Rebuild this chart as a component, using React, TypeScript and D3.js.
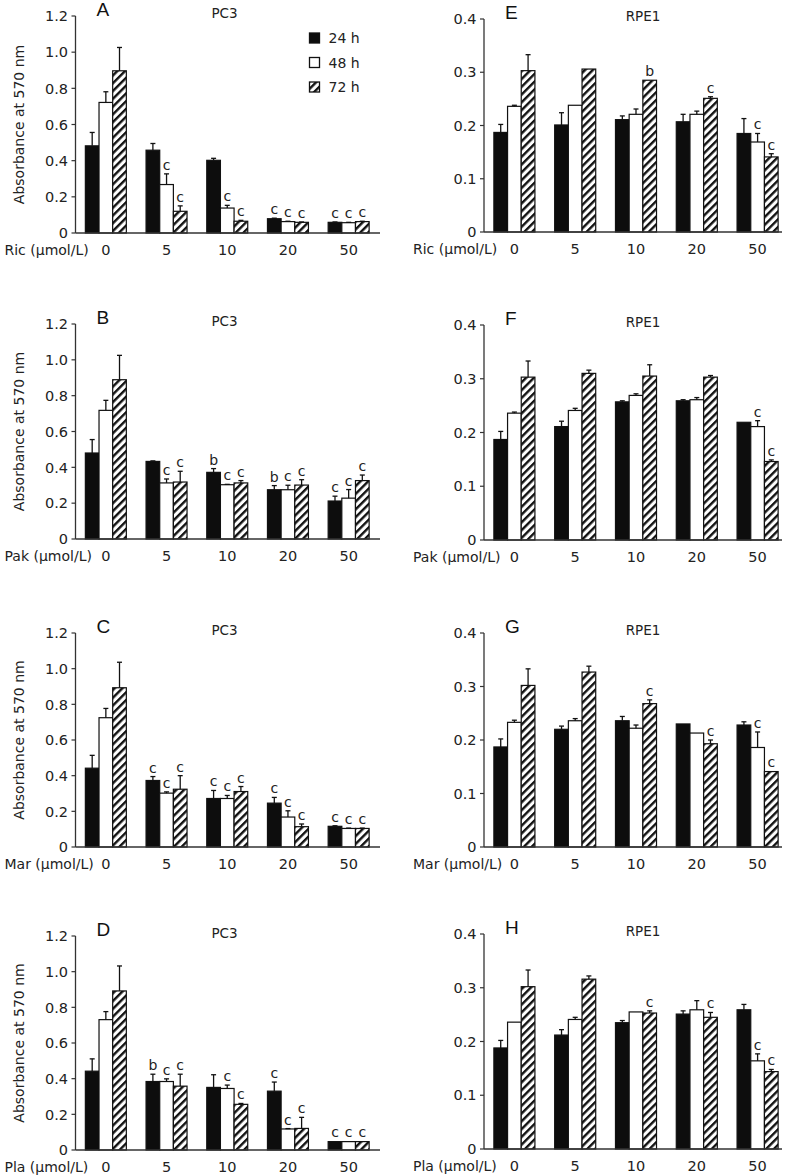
import React from "react";
import * as d3 from "d3";

const doses = ["0", "5", "10", "20", "50"];
const seriesNames = ["24 h", "48 h", "72 h"];
const pc3Ticks = [0, 0.2, 0.4, 0.6, 0.8, 1.0, 1.2];
const pc3TickLabels = ["0", "0.2", "0.4", "0.6", "0.8", "1.0", "1.2"];
const rpeTicks = [0, 0.1, 0.2, 0.3, 0.4];
const rpeTickLabels = ["0", "0.1", "0.2", "0.3", "0.4"];

// means [dose][24h,48h,72h]
const aMeans = [[0.482, 0.722, 0.897], [0.458, 0.268, 0.12], [0.402, 0.138, 0.065], [0.079, 0.063, 0.059], [0.059, 0.057, 0.063]];
const aErrs = [[0.074, 0.059, 0.129], [0.037, 0.059, 0.03], [0.011, 0.015, 0.005], [0.003, 0.002, 0.002], [0.002, 0.002, 0.002]];
const aSig = [["", "", ""], ["", "c", "c"], ["", "c", "c"], ["c", "c", "c"], ["c", "c", "c"]];

const bMeans = [[0.48, 0.718, 0.889], [0.433, 0.313, 0.318], [0.372, 0.303, 0.313], [0.275, 0.275, 0.301], [0.212, 0.228, 0.326]];
const bErrs = [[0.075, 0.056, 0.136], [0.003, 0.022, 0.06], [0.021, 0.002, 0.013], [0.023, 0.025, 0.03], [0.027, 0.048, 0.031]];
const bSig = [["", "", ""], ["", "c", "c"], ["b", "c", "c"], ["b", "c", "c"], ["c", "c", "c"]];

const cMeans = [[0.442, 0.725, 0.893], [0.373, 0.302, 0.324], [0.272, 0.272, 0.311], [0.246, 0.168, 0.114], [0.116, 0.104, 0.104]];
const cErrs = [[0.072, 0.052, 0.143], [0.022, 0.007, 0.076], [0.045, 0.017, 0.028], [0.032, 0.035, 0.015], [0.003, 0.002, 0.002]];
const cSig = [["", "", ""], ["c", "c", "c"], ["c", "c", "c"], ["c", "c", "c"], ["c", "c", "c"]];

const dMeans = [[0.442, 0.731, 0.892], [0.384, 0.384, 0.358], [0.351, 0.345, 0.256], [0.33, 0.118, 0.121], [0.047, 0.047, 0.047]];
const dErrs = [[0.069, 0.045, 0.14], [0.041, 0.015, 0.067], [0.071, 0.019, 0.005], [0.051, 0.002, 0.062], [0.001, 0.001, 0.001]];
const dSig = [["", "", ""], ["b", "c", "c"], ["", "c", "c"], ["c", "c", "c"], ["c", "c", "c"]];

const eMeans = [[0.187, 0.236, 0.303], [0.201, 0.238, 0.306], [0.211, 0.221, 0.285], [0.207, 0.221, 0.251], [0.185, 0.169, 0.141]];
const eErrs = [[0.015, 0.002, 0.030], [0.023, 0.001, 0.001], [0.007, 0.010, 0.001], [0.014, 0.006, 0.003], [0.028, 0.016, 0.006]];
const eSig = [["", "", ""], ["", "", ""], ["", "", "b"], ["", "", "c"], ["", "c", "c"]];

const fMeans = [[0.187, 0.236, 0.303], [0.211, 0.241, 0.310], [0.257, 0.269, 0.305], [0.259, 0.261, 0.303], [0.219, 0.211, 0.146]];
const fErrs = [[0.015, 0.002, 0.030], [0.010, 0.004, 0.006], [0.002, 0.003, 0.021], [0.002, 0.004, 0.003], [0.001, 0.011, 0.003]];
const fSig = [["", "", ""], ["", "", ""], ["", "", ""], ["", "", ""], ["", "c", "c"]];

const gMeans = [[0.187, 0.233, 0.302], [0.220, 0.236, 0.327], [0.236, 0.222, 0.268], [0.230, 0.213, 0.193], [0.228, 0.186, 0.141]];
const gErrs = [[0.015, 0.004, 0.031], [0.006, 0.004, 0.011], [0.008, 0.006, 0.007], [0.001, 0.001, 0.007], [0.006, 0.029, 0.001]];
const gSig = [["", "", ""], ["", "", ""], ["", "", "c"], ["", "", "c"], ["", "c", "c"]];

const hMeans = [[0.188, 0.236, 0.302], [0.212, 0.241, 0.316], [0.235, 0.255, 0.253], [0.251, 0.259, 0.245], [0.259, 0.164, 0.144]];
const hErrs = [[0.014, 0.001, 0.031], [0.010, 0.004, 0.006], [0.004, 0.001, 0.004], [0.006, 0.017, 0.009], [0.010, 0.013, 0.004]];
const hSig = [["", "", ""], ["", "", ""], ["", "", "c"], ["", "", "c"], ["", "c", "c"]];

const FONT = "'DejaVu Sans', Verdana, sans-serif";
const INK = "#222";

type PanelDef = {
  letter: string; title: string; drug: string; col: number; row: number;
  means: number[][]; errs: number[][]; sig: string[][];
};

const panels: PanelDef[] = [
  { letter: "A", title: "PC3", drug: "Ric", col: 0, row: 0, means: aMeans, errs: aErrs, sig: aSig },
  { letter: "B", title: "PC3", drug: "Pak", col: 0, row: 1, means: bMeans, errs: bErrs, sig: bSig },
  { letter: "C", title: "PC3", drug: "Mar", col: 0, row: 2, means: cMeans, errs: cErrs, sig: cSig },
  { letter: "D", title: "PC3", drug: "Pla", col: 0, row: 3, means: dMeans, errs: dErrs, sig: dSig },
  { letter: "E", title: "RPE1", drug: "Ric", col: 1, row: 0, means: eMeans, errs: eErrs, sig: eSig },
  { letter: "F", title: "RPE1", drug: "Pak", col: 1, row: 1, means: fMeans, errs: fErrs, sig: fSig },
  { letter: "G", title: "RPE1", drug: "Mar", col: 1, row: 2, means: gMeans, errs: gErrs, sig: gSig },
  { letter: "H", title: "RPE1", drug: "Pla", col: 1, row: 3, means: hMeans, errs: hErrs, sig: hSig },
];

// layout
const colAxisX = [75.5, 484];
const colBandEnd = [379, 788];
const colAxisEnd = [380, 782];
const rowTops = [[16, 324, 633, 936], [19, 325, 633, 934]];
const rowBottoms = [[233, 539, 847, 1150], [232, 540, 847, 1149]];
const colTitleDx = [149, 159];

function fillFor(i: number) {
  return i === 0 ? "#0d0d0d" : i === 1 ? "#ffffff" : "url(#hatch)";
}

function Panel({ p }: { p: PanelDef }) {
  const ax = colAxisX[p.col];
  const top = rowTops[p.col][p.row];
  const bottom = rowBottoms[p.col][p.row];
  const isPC3 = p.col === 0;
  const ticks = isPC3 ? pc3Ticks : rpeTicks;
  const tickLabels = isPC3 ? pc3TickLabels : rpeTickLabels;
  const y = d3.scaleLinear().domain([0, isPC3 ? 1.2 : 0.4]).range([bottom, top]);
  const x = d3.scaleBand<string>().domain(doses).range([ax, colBandEnd[p.col]]);
  const groupW = x.step() * 0.675;
  const xs = d3.scaleBand<string>().domain(seriesNames).range([0, groupW]);
  const bw = xs.bandwidth();

  return (
    <g>
      {doses.map((d, di) =>
        seriesNames.map((s, si) => {
          const v = p.means[di][si];
          const e = p.errs[di][si];
          const bx = (x(d) as number) + x.bandwidth() / 2 - groupW / 2 + (xs(s) as number);
          const cx = bx + bw / 2;
          const yt = y(v);
          const ye = y(v + e);
          const lab = p.sig[di][si];
          return (
            <g key={d + s}>
              <rect x={bx} y={yt} width={bw} height={bottom - yt} fill={fillFor(si)} stroke="#111" strokeWidth={1.2} />
              {e > 0.0015 && (
                <g stroke="#111" strokeWidth={1.3}>
                  <line x1={cx} x2={cx} y1={yt} y2={ye} />
                  <line x1={cx - 2.5} x2={cx + 2.5} y1={ye} y2={ye} />
                </g>
              )}
              {lab && (
                <text x={cx} y={ye - 4} textAnchor="middle" fontSize={14} fontFamily={FONT} fill={INK}>
                  {lab}
                </text>
              )}
            </g>
          );
        })
      )}
      <line x1={ax} x2={ax} y1={top} y2={bottom} stroke="#333" strokeWidth={1.3} />
      <line x1={ax} x2={colAxisEnd[p.col]} y1={bottom} y2={bottom} stroke="#333" strokeWidth={1.3} />
      {ticks.map((t, i) => (
        <g key={t}>
          <line x1={ax - 4} x2={ax} y1={y(t)} y2={y(t)} stroke="#333" strokeWidth={1.2} />
          <text x={ax - 7.5} y={y(t)} dy="0.36em" textAnchor="end" fontSize={14.5} fontFamily={FONT} fill={INK}>
            {tickLabels[i]}
          </text>
        </g>
      ))}
      {doses.map((d) => (
        <text key={d} x={(x(d) as number) + x.bandwidth() / 2} y={bottom + 22} textAnchor="middle" fontSize={14.5} fontFamily={FONT} fill={INK}>
          {d}
        </text>
      ))}
      <text x={ax - 71} y={bottom + 22} fontSize={14} fontFamily={FONT} fill={INK}>
        {p.drug + " (μmol/L)"}
      </text>
      {isPC3 && (
        <text transform={`translate(24,${(top + bottom) / 2}) rotate(-90)`} textAnchor="middle" fontSize={14} fontFamily={FONT} fill={INK}>
          Absorbance at 570 nm
        </text>
      )}
      <text x={ax + 21} y={top} fontSize={19} fontFamily="'Liberation Sans Narrow', 'Liberation Sans', Arial, sans-serif" fill="#111">
        {p.letter}
      </text>
      <text x={ax + colTitleDx[p.col]} y={top + 2} textAnchor="middle" fontSize={13.5} fontFamily={FONT} fill={INK}>
        {p.title}
      </text>
      {p.letter === "A" && (
        <g>
          {seriesNames.map((s, i) => (
            <g key={s}>
              <rect x={ax + 234} y={top + 17 + i * 24.5} width={10} height={10} fill={fillFor(i)} stroke="#111" strokeWidth={1.3} />
              <text x={ax + 253} y={top + 27 + i * 24.5} fontSize={14} fontFamily={FONT} fill={INK}>
                {s}
              </text>
            </g>
          ))}
        </g>
      )}
    </g>
  );
}

export default function App() {
  return (
    <svg width={791} height={1175} style={{ position: "absolute", left: 0, top: 0, background: "#fff" }}>
      <defs>
        <pattern id="hatch" patternUnits="userSpaceOnUse" width={5.5} height={5.5} patternTransform="rotate(45)">
          <rect x={0} y={0} width={5.5} height={5.5} fill="#fff" />
          <rect x={0} y={0} width={2.4} height={5.5} fill="#111" />
        </pattern>
      </defs>
      <rect x={0} y={0} width={791} height={1175} fill="#fff" />
      {panels.map((p) => (
        <Panel key={p.letter} p={p} />
      ))}
    </svg>
  );
}
